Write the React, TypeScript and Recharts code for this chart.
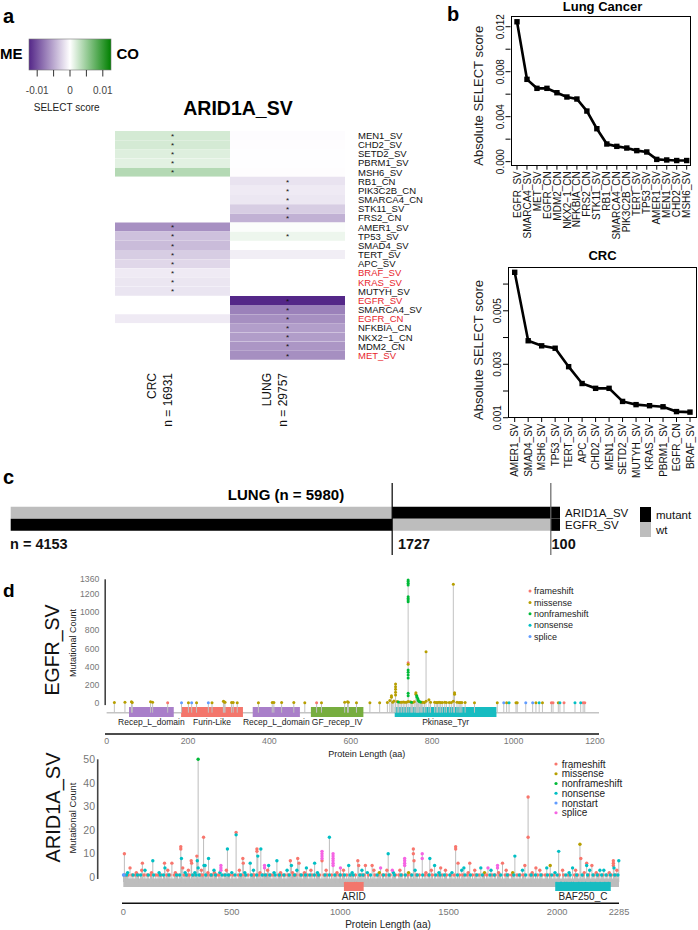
import React from 'react';
import {
  BarChart, Bar, Cell, XAxis, YAxis, LabelList, LineChart, Line,
  ComposedChart, Scatter, ReferenceLine, ReferenceArea,
} from 'recharts';

const FONT = '"Liberation Sans", Arial, Helvetica, sans-serif';
const NARROW = '"Liberation Sans Narrow", "Liberation Sans", Arial, sans-serif';
const RED = '#e8262d';

// ---------------- panel a : heatmap ----------------
const heatGenes = ['MEN1_SV', 'CHD2_SV', 'SETD2_SV', 'PBRM1_SV', 'MSH6_SV', 'RB1_CN', 'PIK3C2B_CN', 'SMARCA4_CN', 'STK11_SV', 'FRS2_CN', 'AMER1_SV', 'TP53_SV', 'SMAD4_SV', 'TERT_SV', 'APC_SV', 'BRAF_SV', 'KRAS_SV', 'MUTYH_SV', 'EGFR_SV', 'SMARCA4_SV', 'EGFR_CN', 'NFKBIA_CN', 'NKX2\u22121_CN', 'MDM2_CN', 'MET_SV'];
const crcScore = [0.0021, 0.0021, 0.0016, 0.0014, 0.0037, 0, 0, 0, 0, 0, -0.0064, -0.0036, -0.0039, -0.0029, -0.0023, -0.0012, -0.00145, -0.0015, 0, 0, -0.0012, 0, 0, 0, 0];
const lungScore = [-0.00015, -0.0001, -0.00005, -0.00005, -0.0001, -0.0016, -0.0012, -0.0014, -0.0029, -0.0045, 0.0002, 0.0009, 0, -0.001, 0, 0, 0, 0, -0.0125, -0.0073, -0.0065, -0.0056, -0.0057, -0.0061, -0.0065];
const crcStar = [1, 1, 1, 1, 1, 0, 0, 0, 0, 0, 1, 1, 1, 1, 1, 1, 1, 1, 0, 0, 0, 0, 0, 0, 0];
const lungStar = [0, 0, 0, 0, 0, 1, 1, 1, 1, 1, 0, 1, 0, 0, 0, 0, 0, 0, 1, 1, 1, 1, 1, 1, 1];
const redGenes = ['BRAF_SV', 'KRAS_SV', 'EGFR_SV', 'EGFR_CN', 'MET_SV'];
const heatColumns = ['CRC', 'LUNG'];
const heatSamples = [16931, 29757];
const scaleTicks = [-0.01, -0.005, 0, 0.005, 0.01];
const scaleLabels = [-0.01, 0, 0.01];
const SCALE_MAX = 0.0125;

// ---------------- panel b : ranked scores ----------------
const lungGenes = ['EGFR_SV', 'SMARCA4_SV', 'MET_SV', 'EGFR_CN', 'MDM2_CN', 'NKX2\u22121_CN', 'NFKBIA_CN', 'FRS2_CN', 'STK11_SV', 'RB1_CN', 'SMARCA4_CN', 'PIK3C2B_CN', 'TERT_SV', 'TP53_SV', 'AMER1_SV', 'MEN1_SV', 'CHD2_SV', 'MSH6_SV'];
const lungAbs = [0.01244, 0.00732, 0.00652, 0.00652, 0.00613, 0.00575, 0.00557, 0.0045, 0.00293, 0.00157, 0.00136, 0.00121, 0.00098, 0.00086, 0.0002, 0.00015, 0.0001, 0.0001];
const lungTicks = [0, 0.002, 0.004, 0.006, 0.008, 0.01, 0.012];
const lungTickLabels = [0, 0.004, 0.008, 0.012];
const crcGenes = ['AMER1_SV', 'SMAD4_SV', 'MSH6_SV', 'TP53_SV', 'TERT_SV', 'APC_SV', 'CHD2_SV', 'MEN1_SV', 'SETD2_SV', 'MUTYH_SV', 'KRAS_SV', 'PBRM1_SV', 'EGFR_CN', 'BRAF_SV'];
const crcAbs = [0.00644, 0.00388, 0.00369, 0.0036, 0.00291, 0.00228, 0.0021, 0.0021, 0.00161, 0.00149, 0.00145, 0.00141, 0.00123, 0.00121];
const crcTicks = [0.001, 0.002, 0.003, 0.004, 0.005, 0.006];
const crcTickLabels = [0.001, 0.003, 0.005];

// ---------------- panel c : co-occurrence bar ----------------
const cRows = ['ARID1A_SV', 'EGFR_SV'];
const cSegments = [4153, 1727, 100];
const cStatus = [['wt', 'mutant', 'mutant'], ['mutant', 'wt', 'mutant']];
const cStatusNames = ['mutant', 'wt'];
const cStatusColors: Record<string, string> = { mutant: '#000000', wt: '#bdbdbd' };

// ---------------- panel d : lollipops ----------------
type Pt = [number, number, string];
const mutTypeNames: Record<string, string> = { F: 'frameshift', M: 'missense', N: 'nonframeshift', S: 'nonsense', T: 'nonstart', P: 'splice' };
const ariColors: Record<string, string> = { F: '#f8766d', M: '#b79f00', N: '#00ba38', S: '#00bfc4', T: '#619cff', P: '#f564e3' };
const egfrColors: Record<string, string> = { F: '#f8766d', M: '#b79f00', N: '#00ba38', S: '#00bfc4', P: '#619cff' };
const egfrTypes = ['F', 'M', 'N', 'S', 'P'];
const ariTypes = ['F', 'M', 'N', 'S', 'T', 'P'];

const egfrDomains = [
  { start: 55, end: 165, name: 'Recep_L_domain', color: '#a97fc9' },
  { start: 183, end: 335, name: 'Furin-Like', color: '#f3766c' },
  { start: 359, end: 475, name: 'Recep_L_domain', color: '#a97fc9' },
  { start: 502, end: 631, name: 'GF_recep_IV', color: '#77ad3f' },
  { start: 708, end: 958, name: 'Pkinase_Tyr', color: '#17bcc1' },
];
const ariDomains = [
  { start: 1017, end: 1108, name: 'ARID', color: '#f3766c' },
  { start: 1991, end: 2247, name: 'BAF250_C', color: '#17bcc1' },
];
const egfrLength = 1210;
const ariLength = 2285;
const egfrXTicks = [0, 200, 400, 600, 800, 1000, 1200];
const egfrYTicks = [0, 200, 400, 600, 800, 1000, 1200, 1360];
const ariXTicks = [0, 500, 1000, 1500, 2000, 2285];
const ariYTicks = [0, 10, 20, 30, 40, 50];

const egfrMutations: Pt[] = [
  [19, 8, 'M'], [45, 10, 'M'], [61, 18, 'M'], [63, 8, 'M'], [108, 16, 'M'], [113, 12, 'M'], [150, 6, 'F'], [184, 6, 'P'], [201, 6, 'M'], [209, 6, 'P'],
  [221, 6, 'M'], [250, 6, 'P'], [259, 6, 'M'], [287, 22, 'M'], [289, 14, 'M'], [291, 10, 'M'], [307, 8, 'M'], [311, 8, 'M'], [321, 6, 'M'], [373, 6, 'M'],
  [407, 8, 'M'], [411, 8, 'M'], [430, 8, 'M'], [460, 8, 'M'], [487, 6, 'M'], [516, 6, 'F'], [528, 6, 'M'], [585, 10, 'M'], [592, 16, 'M'], [594, 10, 'M'],
  [614, 6, 'M'], [647, 6, 'M'], [671, 6, 'M'], [690, 8, 'M'], [696, 30, 'M'], [700, 83, 'M'], [700, 65, 'M'], [703, 12, 'M'], [706, 25, 'M'],
  [710, 212, 'M'], [710, 182, 'M'], [710, 153, 'M'], [710, 120, 'M'], [710, 91, 'M'], [714, 20, 'M'], [717, 14, 'N'], [721, 12, 'M'], [725, 10, 'M'],
  [729, 14, 'M'], [733, 10, 'M'], [737, 12, 'M'],
  [741, 1352, 'N'], [741, 1335, 'N'], [741, 1318, 'N'], [741, 1297, 'N'], [741, 1169, 'N'], [741, 1150, 'N'], [741, 1132, 'N'], [741, 1114, 'N'],
  [741, 445, 'F'], [741, 428, 'M'], [741, 366, 'N'], [741, 340, 'N'], [741, 311, 'N'], [741, 277, 'N'], [741, 110, 'N'], [741, 83, 'N'], [741, 20, 'M'],
  [746, 18, 'M'], [749, 12, 'N'], [752, 8, 'M'], [756, 18, 'M'], [760, 116, 'M'], [760, 100, 'M'], [762, 83, 'N'], [763, 66, 'N'], [765, 48, 'N'],
  [766, 30, 'N'], [768, 20, 'N'], [771, 15, 'N'], [774, 12, 'M'], [777, 10, 'M'], [781, 8, 'M'], [785, 566, 'M'], [785, 22, 'M'], [792, 40, 'M'],
  [796, 12, 'M'], [806, 10, 'M'], [810, 8, 'M'], [813, 8, 'M'], [817, 10, 'M'], [821, 8, 'M'], [825, 8, 'M'], [831, 10, 'M'], [835, 8, 'M'],
  [842, 8, 'M'], [847, 8, 'M'], [852, 1305, 'M'], [852, 22, 'M'], [855, 116, 'M'], [855, 100, 'M'], [861, 10, 'M'], [866, 8, 'M'], [869, 8, 'M'],
  [873, 8, 'M'], [881, 8, 'M'], [904, 6, 'M'],
  [960, 6, 'M'], [976, 6, 'P'], [983, 6, 'M'], [989, 6, 'S'], [1006, 6, 'M'], [1009, 6, 'M'], [1030, 6, 'P'], [1047, 6, 'P'], [1055, 6, 'M'],
  [1063, 6, 'S'], [1071, 6, 'M'], [1093, 6, 'F'], [1097, 6, 'F'], [1110, 6, 'M'], [1114, 6, 'S'], [1124, 6, 'F'], [1151, 6, 'S'], [1165, 6, 'S'],
  [1171, 6, 'F'], [1175, 6, 'F'],
];

const ariMutations: Pt[] = [
  [1, 1, 'T'], [3, 1, 'T'], [5, 10, 'F'], [31, 4, 'F'], [85, 3, 'F'], [88, 6, 'F'], [136, 7, 'S'], [190, 6, 'F'], [192, 4, 'S'], [224, 6, 'F'],
  [265, 13, 'F'], [265, 12, 'F'], [268, 8, 'S'], [274, 4, 'F'], [313, 7, 'F'], [315, 6, 'F'], [339, 9, 'F'], [341, 7, 'S'], [345, 50, 'N'], [345, 4, 'S'],
  [370, 17, 'F'], [372, 5, 'S'], [377, 5, 'S'], [393, 8, 'S'], [418, 3, 'S'], [450, 5, 'P'], [450, 4, 'P'], [450, 3, 'P'], [480, 12, 'S'], [520, 19, 'F'],
  [520, 18, 'S'], [551, 8, 'F'], [553, 6, 'F'], [585, 6, 'S'], [616, 12, 'F'], [616, 11, 'F'], [620, 9, 'S'], [634, 12, 'S'], [651, 5, 'P'], [651, 4, 'P'],
  [670, 5, 'S'], [708, 7, 'S'], [770, 7, 'F'], [775, 5, 'S'], [804, 8, 'F'], [810, 6, 'F'], [844, 4, 'S'], [882, 6, 'S'], [916, 11, 'P'], [916, 10, 'P'],
  [916, 9, 'P'], [916, 8, 'P'], [916, 7, 'F'], [950, 17, 'S'], [967, 10, 'P'], [967, 9, 'P'], [967, 8, 'P'], [967, 7, 'P'], [967, 6, 'P'], [967, 5, 'P'],
  [1001, 4, 'P'], [1039, 5, 'S'], [1081, 7, 'F'], [1085, 5, 'F'], [1116, 5, 'F'], [1147, 5, 'F'], [1186, 4, 'P'], [1221, 10, 'S'], [1240, 3, 'P'],
  [1297, 8, 'P'], [1297, 7, 'P'], [1297, 6, 'P'], [1297, 5, 'P'], [1337, 12, 'F'], [1337, 10, 'F'], [1340, 7, 'F'], [1378, 10, 'P'], [1378, 8, 'P'],
  [1413, 8, 'S'], [1435, 5, 'S'], [1463, 4, 'F'], [1532, 13, 'F'], [1532, 12, 'F'], [1543, 6, 'F'], [1570, 4, 'S'], [1597, 6, 'F'], [1648, 4, 'S'],
  [1681, 4, 'P'], [1725, 5, 'P'], [1725, 4, 'P'], [1748, 6, 'F'], [1805, 9, 'S'], [1851, 5, 'F'], [1866, 34, 'F'], [1866, 17, 'F'], [1902, 4, 'F'],
  [1952, 4, 'S'], [1968, 5, 'M'], [2007, 11, 'S'], [2071, 4, 'S'], [2105, 14, 'M'], [2109, 8, 'F'], [2136, 6, 'F'], [2136, 5, 'S'], [2160, 5, 'F'],
  [2197, 3, 'S'], [2259, 7, 'F'], [2259, 6, 'F'], [2259, 5, 'F'], [2262, 4, 'S'], [2284, 7, 'S'],
  [20, 2, 'S'], [60, 2, 'F'], [100, 3, 'S'], [130, 2, 'F'], [165, 2, 'S'], [205, 3, 'F'], [240, 2, 'F'], [285, 2, 'S'], [300, 3, 'F'], [330, 2, 'S'],
  [360, 3, 'F'], [390, 2, 'F'], [420, 2, 'F'], [445, 2, 'S'], [475, 3, 'F'], [500, 2, 'S'], [535, 3, 'F'], [560, 2, 'S'], [600, 3, 'S'], [630, 2, 'F'],
  [665, 3, 'F'], [695, 2, 'S'], [725, 2, 'F'], [755, 3, 'S'], [780, 2, 'F'], [800, 3, 'S'], [835, 2, 'F'], [865, 3, 'F'], [895, 2, 'S'], [935, 3, 'F'],
  [985, 2, 'F'], [1015, 3, 'F'], [1055, 2, 'S'], [1100, 3, 'S'], [1125, 2, 'S'], [1155, 3, 'F'], [1180, 2, 'M'], [1215, 3, 'F'], [1245, 2, 'S'],
  [1275, 3, 'F'], [1315, 2, 'M'], [1345, 3, 'S'], [1395, 2, 'F'], [1420, 3, 'F'], [1455, 2, 'S'], [1485, 3, 'F'], [1515, 2, 'S'], [1560, 3, 'S'],
  [1590, 2, 'F'], [1620, 3, 'F'], [1665, 2, 'M'], [1695, 3, 'S'], [1730, 2, 'F'], [1765, 3, 'F'], [1795, 2, 'M'], [1840, 3, 'S'], [1885, 2, 'F'],
  [1920, 3, 'F'], [1990, 2, 'S'], [2025, 3, 'F'], [2055, 2, 'S'], [2085, 3, 'F'], [2125, 2, 'F'], [2150, 3, 'S'], [2180, 2, 'F'], [2215, 3, 'S'],
  [2240, 2, 'F'], [2275, 3, 'F'],
];
const ariSingleFrameshift = [10, 22, 40, 55, 70, 95, 110, 125, 150, 160, 175, 200, 215, 235, 250, 280, 295, 305, 325, 355, 365, 385, 400, 410, 430, 440, 465, 490, 505, 530, 545, 560, 575, 595, 605, 625, 645, 660, 680, 690, 715, 730, 745, 760, 785, 795, 815, 830, 850, 870, 890, 905, 925, 940, 960, 980, 995, 1010, 1030, 1050, 1070, 1095, 1110, 1130, 1160, 1175, 1195, 1210, 1230, 1255, 1270, 1285, 1310, 1325, 1350, 1365, 1390, 1405, 1425, 1450, 1470, 1490, 1510, 1525, 1550, 1565, 1585, 1610, 1625, 1640, 1660, 1675, 1700, 1715, 1735, 1760, 1775, 1790, 1815, 1830, 1845, 1875, 1890, 1910, 1930, 1945, 1965, 1985, 2010, 2030, 2050, 2080, 2095, 2120, 2145, 2170, 2190, 2210, 2230, 2250, 2270];
const ariSingleNonsense = [15, 45, 65, 80, 115, 140, 170, 185, 210, 245, 260, 290, 320, 335, 350, 380, 405, 425, 455, 470, 485, 515, 540, 565, 590, 615, 640, 655, 675, 700, 720, 740, 765, 790, 820, 840, 860, 880, 900, 930, 950, 975, 1000, 1020, 1045, 1060, 1090, 1105, 1140, 1170, 1200, 1225, 1250, 1280, 1300, 1330, 1355, 1380, 1410, 1440, 1460, 1480, 1505, 1540, 1575, 1600, 1630, 1655, 1690, 1710, 1740, 1770, 1800, 1825, 1855, 1880, 1900, 1925, 1955, 1975, 2000, 2040, 2060, 2090, 2115, 2140, 2165, 2185, 2205, 2225, 2245, 2265, 2280];

// ---------------- helpers ----------------
function scoreColor(v: number): string {
  const t = Math.min(1, Math.abs(v) / SCALE_MAX);
  const end = v < 0 ? [84, 39, 136] : [0, 128, 0];
  const c = end.map((e) => Math.round(255 + (e - 255) * t));
  return `rgb(${c[0]},${c[1]},${c[2]})`;
}

const heatData = heatGenes.map((g) => ({ gene: g, crc: 1, lung: 1 }));

function Heatmap() {
  const scores = [crcScore, lungScore];
  const stars = [crcStar, lungStar];
  return (
    <BarChart width={460} height={250} data={heatData} layout="vertical"
      margin={{ top: 11, right: 35, bottom: 10, left: 115 }} barCategoryGap={0} barGap={0}>
      <XAxis type="number" domain={[0, 2]} hide />
      <YAxis type="category" dataKey="gene" orientation="right" width={80} axisLine={false} tickLine={false}
        tickSize={0} tickMargin={13} interval={0}
        tick={(p: any) => (
          <text key={p.index} x={p.x} y={p.y} dy="0.36em" fontSize={9.5} fontFamily={FONT}
            fill={redGenes.includes(p.payload.value) ? RED : '#111'}>{p.payload.value}</text>
        )} />
      {['crc', 'lung'].map((key, c) => (
        <Bar key={key} dataKey={key} stackId="h" isAnimationActive={false}>
          {heatData.map((_, i) => <Cell key={i} fill={scoreColor(scores[c][i])} />)}
          <LabelList dataKey={key} content={(p: any) => (stars[c][p.index]
            ? <text x={p.x + p.width / 2} y={p.y + p.height / 2 + 3.2} textAnchor="middle" fontSize={8} fontFamily={FONT} fill="#111">*</text>
            : <g />)} />
        </Bar>
      ))}
    </BarChart>
  );
}

function ScoreLine(props: {
  width: number; height: number; margin: any; yWidth: number; xHeight: number;
  genes: string[]; values: number[]; domain: [number, number]; ticks: number[]; labels: number[];
  padding: { left: number; right: number };
}) {
  const data = props.genes.map((g, i) => ({ gene: g, score: props.values[i] }));
  return (
    <LineChart width={props.width} height={props.height} data={data} margin={props.margin}>
      <XAxis dataKey="gene" type="category" interval={0} height={props.xHeight} padding={props.padding}
        axisLine={false} tickLine={{ stroke: '#000' }} tickSize={4} tickMargin={1.5}
        tick={(p: any) => (
          <text key={p.index} transform={`translate(${p.x + 3.6},${p.y}) rotate(-90)`} textAnchor="end"
            fontSize={10} fontFamily={FONT} fill="#111">{p.payload.value}</text>
        )} />
      <YAxis type="number" domain={props.domain} ticks={props.ticks} interval={0} width={props.yWidth}
        axisLine={false} tickLine={{ stroke: '#000' }} tickSize={5} tickMargin={2} allowDataOverflow
        tick={(p: any) => (props.labels.some((l) => Math.abs(l - p.payload.value) < 1e-9)
          ? <text key={p.index} transform={`translate(${p.x},${p.y}) rotate(-90)`} textAnchor="middle"
            fontSize={10} fontFamily={FONT} fill="#111">{p.payload.value.toFixed(3)}</text>
          : <g key={p.index} />)} />
      <Line type="linear" dataKey="score" stroke="#000" strokeWidth={2.6} isAnimationActive={false}
        dot={(p: any) => <rect key={p.index} x={p.cx - 2.7} y={p.cy - 2.7} width={5.4} height={5.4} fill="#000" />} />
    </LineChart>
  );
}

const cTotal = cSegments.reduce((a, b) => a + b, 0);
const cData = cRows.map((r) => {
  const o: any = { row: r };
  cSegments.forEach((v, k) => { o[`s${k}`] = v; });
  return o;
});
const cBoundaries = [0, cSegments[0], cSegments[0] + cSegments[1]];

function cornerLabel(text: string, dx: number) {
  return (p: any) => {
    const vb = p.viewBox || {};
    return (
      <text x={(vb.x || 0) + dx} y={(vb.y || 0) + (vb.height || 0) - 6.5} fontSize={14.5} fontWeight="bold" fontFamily={FONT} fill="#111">{text}</text>
    );
  };
}

function CoBar() {
  return (
    <BarChart width={698} height={95} data={cData} layout="vertical"
      margin={{ top: 13, right: 78, bottom: 10, left: 10.7 }} barCategoryGap={0} barGap={0}>
      <XAxis type="number" domain={[0, cTotal]} hide />
      <YAxis type="category" dataKey="row" orientation="right" width={60} axisLine={false} tickLine={false}
        tickSize={0} tickMargin={5} interval={0} padding={{ top: 23.7, bottom: 24 }}
        tick={(p: any) => (
          <text key={p.index} x={p.x} y={p.y} dy="0.36em" fontSize={11.5} fontFamily={FONT} fill="#111">{p.payload.value}</text>
        )} />
      {cSegments.map((_, k) => (
        <Bar key={k} dataKey={`s${k}`} stackId="c" isAnimationActive={false}>
          {cData.map((_, i) => <Cell key={i} fill={cStatusColors[cStatus[i][k]]} />)}
        </Bar>
      ))}
      <ReferenceLine x={cBoundaries[0]} stroke="none" label={{ content: cornerLabel(`n = ${cSegments[0]}`, -0.7) } as any} />
      <ReferenceLine x={cBoundaries[1]} stroke="#000" strokeWidth={1.2} label={{ content: cornerLabel(`${cSegments[1]}`, 5.7) } as any} />
      <ReferenceLine x={cBoundaries[2]} stroke="#666" strokeWidth={1.2} label={{ content: cornerLabel(`${cSegments[2]}`, 0.7) } as any} />
    </BarChart>
  );
}

function stemsOf(muts: Pt[]): [number, number][] {
  const m = new Map<number, number>();
  muts.forEach(([p, c]) => m.set(p, Math.max(m.get(p) ?? 0, c)));
  return Array.from(m.entries());
}

function Lollipop(props: {
  width: number; height: number; margin: any; yWidth: number;
  xDomain: [number, number]; yDomain: [number, number]; xTicks: number[]; yTicks: number[];
  muts: Pt[]; types: string[]; colors: Record<string, string>; length: number;
  band: [number, number]; bandColor: string; stemBase: number; stemColor: string;
  domains: { start: number; end: number; name: string; color: string }[]; domainY: [number, number];
  axisX: number; axisY: [number, number]; dotR: number; xFont: number; yFont: number;
  xTickMargin: number; yTickMargin: number; domFont: number;
}) {
  const pts = props.muts.map(([pos, count, type]) => ({ pos, count, type }));
  const stems = stemsOf(props.muts);
  return (
    <ComposedChart width={props.width} height={props.height} margin={props.margin}>
      <XAxis type="number" dataKey="pos" domain={props.xDomain} ticks={props.xTicks} interval={0} height={16}
        axisLine={{ stroke: '#111', strokeWidth: 1.6 }} tickLine={false} tickSize={0} tickMargin={props.xTickMargin}
        tick={{ fontSize: props.xFont, fill: '#777', fontFamily: FONT }} />
      <YAxis type="number" dataKey="count" domain={props.yDomain} ticks={props.yTicks} interval={0} width={props.yWidth}
        axisLine={false} tickLine={false} tickSize={0} tickMargin={props.yTickMargin}
        tick={{ fontSize: props.yFont, fill: '#777', fontFamily: FONT }} />
      <ReferenceArea x1={0} x2={props.length} y1={props.band[0]} y2={props.band[1]} fill={props.bandColor} fillOpacity={1} stroke="none" ifOverflow="visible" />
      {stems.map(([p, c]) => (
        <ReferenceLine key={`st${p}`} segment={[{ x: p, y: props.stemBase }, { x: p, y: c }]} stroke={props.stemColor} strokeWidth={1} />
      ))}
      {props.domains.map((d, i) => (
        <ReferenceArea key={`dm${i}`} x1={d.start} x2={d.end} y1={props.domainY[0]} y2={props.domainY[1]} fill={d.color} fillOpacity={1} stroke="none"
          label={{ value: d.name, position: 'bottom', offset: 2, fontSize: props.domFont, fill: '#222', fontFamily: NARROW } as any} />
      ))}
      <ReferenceLine segment={[{ x: props.axisX, y: props.axisY[0] }, { x: props.axisX, y: props.axisY[1] }]} stroke="#444" strokeWidth={1.6} ifOverflow="visible" />
      {props.types.map((t) => (
        <Scatter key={t} data={pts.filter((q) => q.type === t)} fill={props.colors[t]} isAnimationActive={false}
          shape={(p: any) => <circle cx={p.cx} cy={p.cy} r={props.dotR} fill={props.colors[t]} />} />
      ))}
    </ComposedChart>
  );
}

const ariAll: Pt[] = [
  ...ariSingleFrameshift.map((p) => [p, 1, 'F'] as Pt),
  ...ariSingleNonsense.map((p) => [p, 1, 'S'] as Pt),
  ...ariMutations,
];

export default function App() {
  const abs = (x: number, y: number): React.CSSProperties => ({ position: 'absolute', left: x, top: y });
  const colCenters = [172.5, 287.5];
  return (
    <div style={{ position: 'absolute', left: 0, top: 0, width: 698, height: 930, background: '#fff', overflow: 'hidden', fontFamily: FONT }}>
      <div style={abs(0, 120)}><Heatmap /></div>

      <div style={abs(440, 0)}>
        <ScoreLine width={258} height={245} margin={{ top: 15.7, right: 7, bottom: 0, left: 0 }} yWidth={70.5} xHeight={79.3}
          genes={lungGenes} values={lungAbs} domain={[-0.00036, 0.01298]} ticks={lungTicks} labels={lungTickLabels}
          padding={{ left: 6.5, right: 4.3 }} />
      </div>
      <div style={{ ...abs(510.5, 15.7), width: 180.5, height: 150, border: '1.2px solid #000', boxSizing: 'border-box' }} />

      <div style={abs(440, 255)}>
        <ScoreLine width={258} height={245} margin={{ top: 11.7, right: 1, bottom: 0, left: 0 }} yWidth={68} xHeight={82}
          genes={crcGenes} values={crcAbs} domain={[0.00099, 0.00665]} ticks={crcTicks} labels={crcTickLabels}
          padding={{ left: 6.7, right: 7 }} />
      </div>
      <div style={{ ...abs(508, 266.7), width: 189, height: 151.3, border: '1.2px solid #000', boxSizing: 'border-box' }} />

      <div style={abs(0, 470)}><CoBar /></div>

      <div style={abs(0, 570)}>
        <Lollipop width={698} height={190} margin={{ top: 9.3, right: 99, bottom: 10, left: 0 }} yWidth={105}
          xDomain={[-4, egfrLength]} yDomain={[-337, 1360]} xTicks={egfrXTicks} yTicks={egfrYTicks}
          muts={egfrMutations} types={egfrTypes} colors={egfrColors} length={egfrLength}
          band={[-111, -95]} bandColor="#c4c4c4" stemBase={-103} stemColor="#c2c2c2"
          domains={egfrDomains} domainY={[-150, -41]} axisX={-3.5} axisY={[-20, 1360]} dotR={1.5}
          xFont={8.8} yFont={8.7} xTickMargin={4} yTickMargin={5.7} domFont={8.5} />
      </div>

      <div style={abs(0, 750)}>
        <Lollipop width={698} height={180} margin={{ top: 9.3, right: 79, bottom: 10.7, left: 0 }} yWidth={122}
          xDomain={[-6, ariLength]} yDomain={[-11, 50]} xTicks={ariXTicks} yTicks={ariYTicks}
          muts={ariAll} types={ariTypes} colors={ariColors} length={ariLength}
          band={[-4.1, -0.5]} bandColor="#bdbdbd" stemBase={-2} stemColor="#bdbdbd"
          domains={ariDomains} domainY={[-5.8, -1.9]} axisX={-118} axisY={[-0.7, 50]} dotR={1.7}
          xFont={9.3} yFont={10.5} xTickMargin={5} yTickMargin={27} domFont={10} />
      </div>

      <svg width={698} height={930} style={{ position: 'absolute', left: 0, top: 0, pointerEvents: 'none' }} fontFamily={FONT}>
        <defs>
          <linearGradient id="selGrad" x1="0" x2="1" y1="0" y2="0">
            <stop offset="0" stopColor={scoreColor(-SCALE_MAX)} />
            <stop offset="0.5" stopColor="#ffffff" />
            <stop offset="1" stopColor={scoreColor(SCALE_MAX)} />
          </linearGradient>
        </defs>
        {/* panel a */}
        <text x={3} y={23.3} fontSize={20} fontWeight="bold">a</text>
        <text x={0} y={59.3} fontSize={15} fontWeight="bold">ME</text>
        <text x={116.5} y={59.3} fontSize={15} fontWeight="bold">CO</text>
        <rect x={29} y={39} width={82} height={31} fill="url(#selGrad)" stroke="#777" strokeWidth={0.6} />
        {scaleTicks.map((v) => (
          <line key={v} x1={70 + (v / SCALE_MAX) * 41} x2={70 + (v / SCALE_MAX) * 41} y1={70} y2={76.5} stroke="#333" strokeWidth={1} />
        ))}
        {scaleLabels.map((v) => (
          <text key={v} x={70 + (v / SCALE_MAX) * 41} y={93.6} fontSize={10} textAnchor="middle" fill="#444">{v === 0 ? '0' : v.toFixed(2)}</text>
        ))}
        <text x={66.7} y={110.6} fontSize={10} textAnchor="middle" fill="#222">SELECT score</text>
        <text x={238} y={115} fontSize={19.5} fontWeight="bold" textAnchor="middle">ARID1A_SV</text>
        {heatColumns.map((c, i) => (
          <g key={c}>
            <text transform={`translate(${colCenters[i] - 16.7},373) rotate(-90)`} textAnchor="end" fontSize={12} fill="#111">{c}</text>
            <text transform={`translate(${colCenters[i] - 0.2},373) rotate(-90)`} textAnchor="end" fontSize={12} fill="#111">{`n = ${heatSamples[i]}`}</text>
          </g>
        ))}

        {/* panel b */}
        <text x={447} y={21} fontSize={20} fontWeight="bold">b</text>
        <text x={602.5} y={10.5} fontSize={13} fontWeight="bold" textAnchor="middle">Lung Cancer</text>
        <text transform="translate(483.3,95.8) rotate(-90)" fontSize={13} textAnchor="middle" fill="#222">Absolute SELECT score</text>
        <text x={602.5} y={260} fontSize={13} fontWeight="bold" textAnchor="middle">CRC</text>
        <text transform="translate(483.3,350) rotate(-90)" fontSize={13} textAnchor="middle" fill="#222">Absolute SELECT score</text>

        {/* panel c */}
        <text x={3} y={483.5} fontSize={20} fontWeight="bold">c</text>
        <text x={286} y={500} fontSize={15} fontWeight="bold" textAnchor="middle">{`LUNG (n = ${cTotal})`}</text>
        {cStatusNames.map((s, i) => (
          <g key={s}>
            <rect x={640} y={507 + i * 15} width={11} height={15} fill={cStatusColors[s]} />
            <text x={656} y={514.5 + i * 15.5} dy="0.36em" fontSize={11.5} fill="#111">{s}</text>
          </g>
        ))}

        {/* panel d */}
        <text x={3} y={596.7} fontSize={19} fontWeight="bold">d</text>
        <text transform="translate(59,650) rotate(-90)" fontSize={19.5} textAnchor="middle" fill="#111">EGFR_SV</text>
        <text transform="translate(75.5,643) rotate(-90)" fontSize={9} textAnchor="middle" fill="#222">Mutational Count</text>
        <text x={366.7} y={754} dy="0.36em" fontSize={9} textAnchor="middle" fill="#222">Protein Length (aa)</text>
        {egfrTypes.map((t, i) => (
          <g key={t}>
            <circle cx={530} cy={591 + i * 11.4} r={1.5} fill={egfrColors[t]} />
            <text x={534} y={591 + i * 11.4} dy="0.36em" fontSize={9} fill="#222">{mutTypeNames[t]}</text>
          </g>
        ))}
        <text transform="translate(59.5,807.5) rotate(-90)" fontSize={20} textAnchor="middle" fill="#111">ARID1A_SV</text>
        <text transform="translate(75.5,818) rotate(-90)" fontSize={9.4} textAnchor="middle" fill="#222">Mutational Count</text>
        <text x={388} y={924} dy="0.36em" fontSize={10} textAnchor="middle" fill="#222">Protein Length (aa)</text>
        {ariTypes.map((t, i) => (
          <g key={t}>
            <circle cx={556} cy={764 + i * 9.75} r={1.6} fill={ariColors[t]} />
            <text x={561.7} y={764 + i * 9.75} dy="0.36em" fontSize={10} fill="#222">{mutTypeNames[t]}</text>
          </g>
        ))}
      </svg>
    </div>
  );
}
